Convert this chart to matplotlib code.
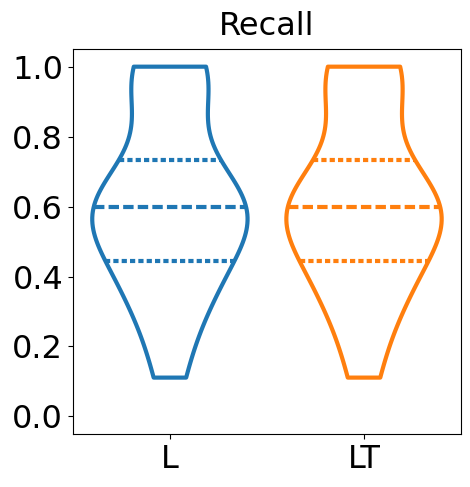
import numpy as np
import pandas as pd
import matplotlib
matplotlib.use("Agg")
import matplotlib.pyplot as plt
import seaborn as sns

# recall per sample (same for both models)
recall_L = [0.111, 0.125, 0.222, 0.333, 0.333, 0.333, 0.333, 0.4,
            0.444, 0.444, 0.444, 0.5, 0.556, 0.556, 0.556, 0.571, 0.571,
            0.6, 0.6, 0.6, 0.6, 0.6, 0.6, 0.625, 0.7, 0.7, 0.7, 0.833,
            0.9, 0.9, 1.0, 1.0, 1.0, 1.0, 1.0, 1.0]
recall_LT = list(recall_L)
models = ["L", "LT"]

df = pd.DataFrame({
    "model": ["L"] * len(recall_L) + ["LT"] * len(recall_LT),
    "recall": recall_L + recall_LT,
})

plt.rcParams["font.size"] = 23
fig, ax = plt.subplots(figsize=(4.7, 4.87), dpi=100)
fig.subplots_adjust(left=0.155, right=0.981, top=0.899, bottom=0.109)

sns.violinplot(data=df, x="model", y="recall", hue="model", order=models,
               fill=False, inner="quart", cut=0, linewidth=3, ax=ax, legend=False)
ax.set_ylim(-0.05, 1.05)
ax.set_xlabel("")
ax.set_ylabel("")
ax.set_title("Recall", fontsize=23, pad=10)

fig.savefig("out.png", dpi=100)
